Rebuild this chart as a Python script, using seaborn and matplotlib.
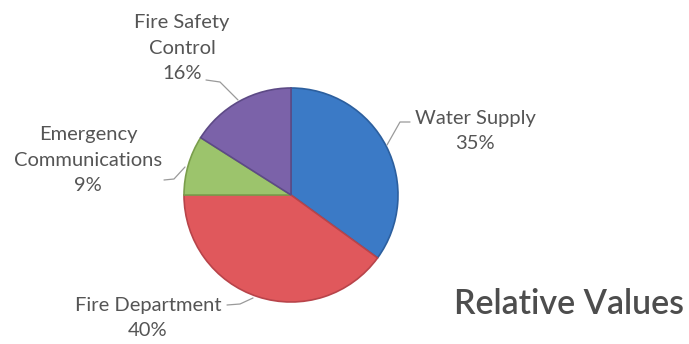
import matplotlib
matplotlib.use("Agg")
import matplotlib.pyplot as plt
import seaborn as sns

# Share of relative value per fire-protection category
categories = ["Water Supply", "Fire Department", "Emergency\nCommunications", "Fire Safety\nControl"]
shares = [35, 40, 9, 16]
colors = ["#3b7ac6", "#e0585c", "#9cc46c", "#7b62a9"]
edges = ["#2c5f9e", "#b8444a", "#7a9e4c", "#5d4a86"]

sns.set_theme(style="white")
plt.rcParams["font.family"] = ["Lato", "DejaVu Sans"]

W, H = 689, 344
fig = plt.figure(figsize=(W / 100, H / 100), dpi=100)
ax = fig.add_axes([0, 0, 1, 1])

cx, cy, r = 291, H - 195, 107
wedges, _ = ax.pie(shares, colors=colors, startangle=90, counterclock=False,
                   center=(cx, cy), radius=r, frame=True,
                   wedgeprops=dict(linewidth=1.2))
for w, ec in zip(wedges, edges):
    w.set_edgecolor(ec)
ax.set_xlim(0, W)
ax.set_ylim(0, H)
ax.set_aspect("equal")
ax.axis("off")

text_color = "#555555"
line_color = "#9a9a9a"

# label text anchor (center) and leader line points, in pixel space (y down)
label_pos = [(475, 131), (148, 318), (88, 160), (182, 48)]
leaders = [
    [(410, 122), (400, 122), (387, 145)],
    [(227, 305), (240, 304), (253, 298)],
    [(164, 180), (174, 179), (185, 167)],
    [(206, 80), (220, 82), (238, 100)],
]

for name, val, (tx, ty), pts in zip(categories, shares, label_pos, leaders):
    ax.text(tx, H - ty, f"{name}\n{val}%", ha="center", va="center",
            fontsize=14.5, color=text_color, linespacing=1.6)
    xs = [p[0] for p in pts]
    ys = [H - p[1] for p in pts]
    ax.plot(xs, ys, color=line_color, lw=0.9)

ax.text(684, H - 304, "Relative Values", ha="right", va="center",
        fontsize=24.5, color="#4d4d4d", fontweight="semibold")

fig.savefig("out.png", dpi=100, facecolor="white")
